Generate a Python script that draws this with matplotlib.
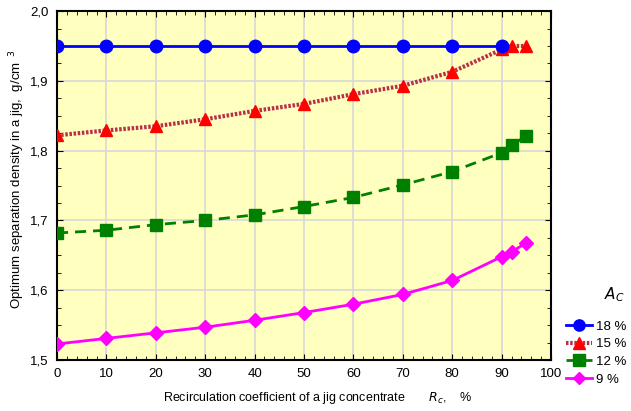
import matplotlib
matplotlib.use("Agg")
from matplotlib import pyplot as plt
from matplotlib.ticker import MultipleLocator, FuncFormatter

plt.rcParams['font.family'] = ['Liberation Sans', 'DejaVu Sans']

# recirculation coefficient Rc, %
x_18 = [0, 10, 20, 30, 40, 50, 60, 70, 80, 90]
x_all = [0, 10, 20, 30, 40, 50, 60, 70, 80, 90, 92, 95]

# optimum separation density, g/cm3
d_18 = [1.95, 1.95, 1.95, 1.95, 1.95, 1.95, 1.95, 1.95, 1.95, 1.95]
d_15 = [1.822, 1.829, 1.835, 1.845, 1.857, 1.867, 1.881, 1.893, 1.913, 1.945, 1.950, 1.950]
d_12 = [1.682, 1.686, 1.694, 1.700, 1.708, 1.720, 1.733, 1.751, 1.770, 1.797, 1.808, 1.821]
d_9 = [1.523, 1.531, 1.539, 1.547, 1.557, 1.568, 1.580, 1.594, 1.614, 1.648, 1.655, 1.668]

labels = ['18 %', '15 %', '12 %', '9 %']

fig = plt.figure(figsize=(6.31, 4.11), dpi=100)
ax = fig.add_axes([0.0903, 0.124, 0.783, 0.849])
ax.set_facecolor('#ffffc0')

ax.plot(x_18, d_18, color='#0000ff', lw=2, marker='o', ms=9, label=labels[0], zorder=5)
ax.plot(x_all, d_15, color='#b83048', lw=3, ls=(0, (0.6, 0.4)), marker='^', ms=9,
        mfc='#ff0000', mec='#ff0000', label=labels[1], zorder=4)
ax.plot(x_all, d_12, color='#008000', lw=2, ls=(0, (4, 2.5)), marker='s', ms=9, label=labels[2], zorder=3)
ax.plot(x_all, d_9, color='#ff00ff', lw=2, marker='D', ms=7, label=labels[3], zorder=3)

ax.set_xlim(0, 100)
ax.set_ylim(1.5, 2.0)
ax.xaxis.set_major_locator(MultipleLocator(10))
ax.xaxis.set_minor_locator(MultipleLocator(2))
ax.yaxis.set_major_locator(MultipleLocator(0.1))
ax.yaxis.set_minor_locator(MultipleLocator(0.025))
ax.yaxis.set_major_formatter(FuncFormatter(lambda v, p: f'{v:.1f}'.replace('.', ',')))
ax.tick_params(which='both', direction='in', top=True, right=True, labelsize=9.5, pad=6)
ax.tick_params(which='major', length=4)
ax.tick_params(which='minor', length=3)
ax.grid(True, which='major', color='#d8d8d8', lw=1.2)
ax.set_axisbelow(True)
for s in ax.spines.values():
    s.set_linewidth(1.5)

ax.set_xlabel('Recirculation coefficient of a jig concentrate       $R_c$,    %', fontsize=9)
ax.xaxis.set_label_coords(0.528, -0.085)
ax.set_ylabel('Optimum separation density in a jig,  g/cm$^{\\ \\ 3}$', fontsize=9.5)
ax.yaxis.set_label_coords(-0.06, 0.52)

leg = ax.legend(loc='lower left', bbox_to_anchor=(0.897, 0.062), bbox_transform=fig.transFigure,
                frameon=False, fontsize=9.5, handlelength=2.0,
                handletextpad=0.3, labelspacing=0.4, borderpad=0, borderaxespad=0,
                markerscale=0.9)
fig.text(0.973, 0.282, '$A_C$', fontsize=11, ha='center', va='center')

fig.savefig('out.png', dpi=100)
